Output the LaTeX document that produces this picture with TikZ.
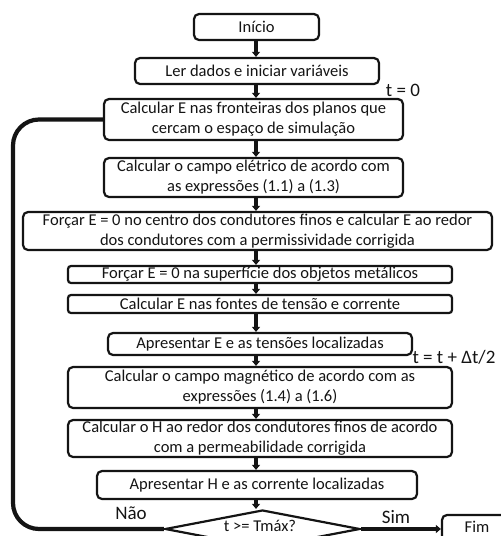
\documentclass[tikz,border=0pt]{standalone}
\usepackage{fontspec}
\setmainfont{Carlito}
\usepackage{tikz}
\usetikzlibrary{arrows.meta, positioning, shapes.geometric}
\definecolor{ink}{HTML}{141414}
\tikzset{
  font=\fontsize{16.5}{20}\selectfont,
  >={Triangle[length=5pt, width=8pt]},
  %
  box/.style={
    draw=ink, line width=2.2pt, fill=white, rounded corners=5pt,
    inner sep=1pt, align=center, text=ink,
  },
  flow/.style={draw=ink, line width=3.4pt, ->},
  loopback/.style={draw=ink, line width=4.2pt, rounded corners=26pt},
  %
  lbl/.style={font=\fontsize{19}{22}\selectfont, text=ink, inner sep=0pt},
  test/.style={box, diamond, aspect=5, inner sep=0pt, rounded corners=0pt},
}
\begin{document}
\begin{tikzpicture}[x=1pt, y=-1pt]
  \useasboundingbox (0,0) rectangle (501,536);

  \node[box, minimum width=125pt, minimum height=26pt] (ini) at (256.5,27) {Início};
  \node[box, minimum width=244pt, minimum height=26pt] (ler) at (257,71) {Ler dados e iniciar variáveis};
  \node[box, minimum width=299pt, minimum height=41pt] (fron) at (253.5,119.5)
    {Calcular E nas fronteiras dos planos que\\cercam o espaço de simulação};
  \node[box, minimum width=299pt, minimum height=39pt] (campo) at (253.5,177.5)
    {Calcular o campo elétrico de acordo com\\as expressões (1.1) a (1.3)};
  \node[box, minimum width=469pt, minimum height=38pt] (cfin) at (257.5,231)
    {Forçar E = 0 no centro dos condutores finos e calcular E ao redor\\dos condutores com a permissividade corrigida};
  \node[box, minimum width=384pt, minimum height=17pt, rounded corners=3pt] (sup) at (260,274.5)
    {Forçar E = 0 na superfície dos objetos metálicos};
  \node[box, minimum width=384pt, minimum height=18pt, rounded corners=3pt] (font) at (260,304)
    {Calcular E nas fontes de tensão e corrente};
  \node[box, minimum width=304pt, minimum height=22pt] (apE) at (260,344)
    {Apresentar E e as tensões localizadas};
  \node[box, minimum width=384pt, minimum height=41pt] (mag) at (260,387.5)
    {Calcular o campo magnético de acordo com as\\expressões (1.4) a (1.6)};
  \node[box, minimum width=384pt, minimum height=37pt] (hfin) at (260,438.5)
    {Calcular o H ao redor dos condutores finos de acordo\\com a permeabilidade corrigida};
  \node[box, minimum width=320pt, minimum height=28pt] (apH) at (257,485)
    {Apresentar H e as corrente localizadas};

  \node[test, minimum width=195pt, minimum height=38pt] (dec) at (262.5,529) {};
  \node[inner sep=0pt, text=ink] (dectxt) at (260,526) {t >= Tmáx?};
  \node[box, minimum width=70pt, minimum height=28pt] (fim) at (477,529) {};
  \node[inner sep=0pt, text=ink] (fimtxt) at (477,527) {Fim};

  \node[lbl] (t0) at (403,90) {t = 0};
  \node[lbl] (dt) at (454,357) {t = t + Δt/2};
  \node[lbl] (nao) at (131,513) {Não};
  \node[lbl] (sim) at (396,517) {Sim};

  \coordinate (col) at (256,0);
  \foreach \a/\b in {ini/ler, ler/fron, fron/campo, campo/cfin, cfin/sup,
                     sup/font, font/apE, apE/mag, mag/hfin, hfin/apH, apH/dec}
    \draw[flow] (col |- \a.south) -- (col |- \b.north);

  \draw[flow] (dec.east) -- (fim.west);

  % back to the start of the time step
  \coordinate (side) at (13,0);
  \draw[loopback] (dec.west) -| (side |- fron.west) -- (fron.west);

\end{tikzpicture}
\end{document}
